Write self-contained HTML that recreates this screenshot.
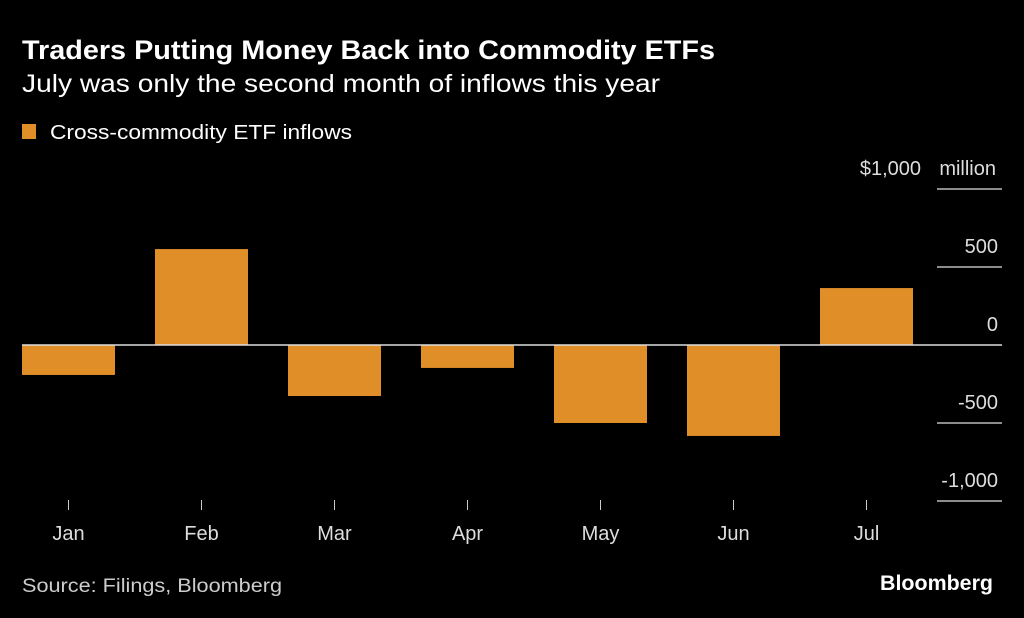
<!DOCTYPE html>
<html><head><meta charset="utf-8"><style>
html,body{margin:0;padding:0;background:#000;}
svg{display:block;font-family:"Liberation Sans",sans-serif;}
</style></head><body>
<svg id="chart" width="1024" height="618" viewBox="0 0 1024 618">
<rect width="1024" height="618" fill="#000"/>
<text x="22" y="59" font-size="27" font-weight="bold" fill="#fff" textLength="693" lengthAdjust="spacingAndGlyphs">Traders Putting Money Back into Commodity ETFs</text>
<text x="22" y="92" font-size="25" fill="#fff" textLength="638" lengthAdjust="spacingAndGlyphs">July was only the second month of inflows this year</text>
<rect x="22" y="124" width="14" height="15" fill="#e08e28"/>
<text x="50" y="139" font-size="20" fill="#fff" textLength="302" lengthAdjust="spacingAndGlyphs">Cross-commodity ETF inflows</text>
<g id="grid"></g>
<g id="bars"></g>
<g id="xaxis"></g>
<text x="22" y="592" font-size="19" fill="#ccc" textLength="260" lengthAdjust="spacingAndGlyphs">Source: Filings, Bloomberg</text>
<text x="993" y="590" font-size="21" font-weight="bold" fill="#fff" text-anchor="end" textLength="113" lengthAdjust="spacingAndGlyphs">Bloomberg</text>
</svg>
<script>
const categories = ["Jan","Feb","Mar","Apr","May","Jun","Jul"];
const inflows = [-192, 615, -327, -147, -500, -583, 365];
const yTicks = [1000, 500, 0, -500, -1000];
const yTickLabels = ["$1,000", "500", "0", "-500", "-1,000"];

const NS = "http://www.w3.org/2000/svg";
const y = v => 345 - v * 0.156;
const xCenter = i => 68.5 + i * 133;
const barW = 93;
function mk(tag, attrs, parent, txt){
  const e = document.createElementNS(NS, tag);
  for (const k in attrs) e.setAttribute(k, attrs[k]);
  if (txt !== undefined) e.textContent = txt;
  parent.appendChild(e);
  return e;
}
const grid = document.getElementById("grid");
yTicks.forEach((t, i) => {
  if (t !== 0) {
    const l = mk("line", {x1:937, x2:1002, y1:y(t), y2:y(t), stroke:"#bbb", "stroke-width":1.5}, grid);
    
    
  }
  const lab = mk("text", {x:998, y:y(t) - 14, "font-size":20, fill:"#ddd", "text-anchor":"end"}, grid, yTickLabels[i]);
  
  
  if (t === 1000) {
    lab.setAttribute("x", 921);
    const u = mk("text", {x:996, y:y(t) - 14, "font-size":20, fill:"#ddd", "text-anchor":"end"}, grid, "million");
    
    
  }
});
const bars = document.getElementById("bars");
inflows.forEach((v, i) => {
  const top = Math.min(y(v), y(0)), h = Math.abs(y(v) - y(0));
  const r = mk("rect", {x:xCenter(i) - barW/2, y:top, width:barW, height:h, fill:"#e08e28"}, bars);
  
  
});
const z = mk("line", {x1:22, x2:1002, y1:y(0), y2:y(0), stroke:"#ddd", "stroke-width":1.5}, bars);


const xa = document.getElementById("xaxis");
categories.forEach((c, i) => {
  const t = mk("line", {x1:xCenter(i), x2:xCenter(i), y1:500, y2:510, stroke:"#ccc", "stroke-width":1}, xa);
  
  
  const l = mk("text", {x:xCenter(i), y:540, "font-size":20, fill:"#ddd", "text-anchor":"middle"}, xa, c);
  
  
});
</script>
</body></html>
